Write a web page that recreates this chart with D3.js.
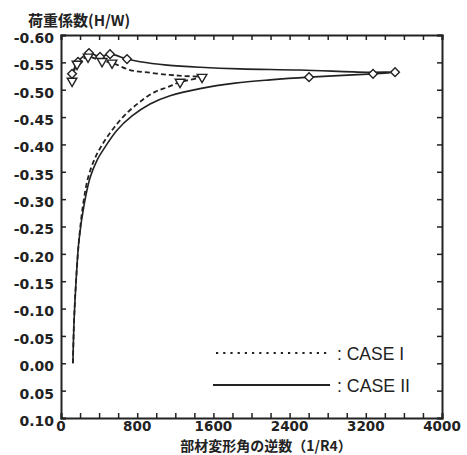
<!DOCTYPE html>
<html>
<head>
<meta charset="utf-8">
<script src="https://cdn.jsdelivr.net/npm/d3@7"></script>
<style>
  body { margin: 0; background: #fff; }
  svg { display: block; }
  .tick-label { font-family: "DejaVu Sans", sans-serif; font-weight: bold; font-size: 14px; fill: #222; }
  .cjk { font-family: "Noto Sans CJK JP", sans-serif; font-weight: bold; fill: #222; }
  .legend-text { font-family: "Liberation Sans", sans-serif; font-size: 19px; fill: #222; }
</style>
</head>
<body>
<div id="graph"></div>
<script>
// CASE I (dashed, down triangles): loading branch then return branch
var caseIx = [125, 137, 158, 189, 231, 284, 357, 431, 536, 672, 830, 987, 1124, 1250, 1481,
              1302, 1145, 935, 725, 536, 431, 284, 168, 116]
var caseIy = [0.00, -0.077, -0.150, -0.225, -0.289, -0.339, -0.375, -0.399, -0.426, -0.454, -0.478, -0.496, -0.505, -0.514, -0.523,
              -0.525, -0.527, -0.531, -0.536, -0.549, -0.552, -0.560, -0.547, -0.516]
var caseIMarks = [13, 14, 19, 20, 21, 22, 23]

// CASE II (solid, diamonds)
var caseIIx = [125, 137, 158, 189, 242, 305, 378, 462, 588, 746, 935, 1145, 1460, 1827, 2195, 2604, 3276, 3507,
               3213, 2510, 1880, 1460, 1113, 830, 693, 515, 410, 294, 179, 116]
var caseIIy = [0.00, -0.077, -0.150, -0.225, -0.289, -0.339, -0.371, -0.395, -0.426, -0.452, -0.474, -0.489, -0.502, -0.512, -0.518, -0.523, -0.529, -0.532,
               -0.532, -0.536, -0.538, -0.541, -0.545, -0.551, -0.556, -0.565, -0.560, -0.567, -0.551, -0.529]
var caseIIMarks = [15, 16, 17, 24, 25, 26, 27, 28, 29]

var xTicks = [0, 800, 1600, 2400, 3200, 4000]
var xTickLabels = ["0", "800", "1600", "2400", "3200", "4000"]
var yTicks = [-0.60, -0.55, -0.50, -0.45, -0.40, -0.35, -0.30, -0.25, -0.20, -0.15, -0.10, -0.05, 0.00, 0.05, 0.10]
var yTickLabels = ["-0.60", "-0.55", "-0.50", "-0.45", "-0.40", "-0.35", "-0.30", "-0.25", "-0.20", "-0.15", "-0.10", "-0.05", "0.00", "0.05", "0.10"]

var yTitle = "荷重係数(H/W)"
var xTitle = "部材変形角の逆数（1/R4）"
var legendLabels = [": CASE I", ": CASE II"]
var legendWidths = [67, 73]

var width = 467, height = 455
var margin = {top: 35, right: 25, bottom: 37, left: 61}
var ink = "#222"

var x = d3.scaleLinear().domain([0, 4000]).range([margin.left, width - margin.right])
var y = d3.scaleLinear().domain([-0.60, 0.10]).range([margin.top, height - margin.bottom])

var svg = d3.select("#graph").append("svg")
    .attr("width", width)
    .attr("height", height)

var minorX = d3.range(0, 4001, 200)

// frame ticks (inward)
svg.append("g")
    .attr("transform", "translate(0," + y(0.10) + ")")
    .call(d3.axisBottom(x).tickValues(minorX).tickSize(-5).tickFormat(""))
svg.append("g")
    .attr("transform", "translate(0," + y(-0.60) + ")")
    .call(d3.axisTop(x).tickValues(minorX).tickSize(-5).tickFormat(""))
svg.append("g")
    .attr("transform", "translate(" + x(0) + ",0)")
    .call(d3.axisLeft(y).tickValues(yTicks).tickSize(-5).tickFormat(""))
svg.append("g")
    .attr("transform", "translate(" + x(4000) + ",0)")
    .call(d3.axisRight(y).tickValues(yTicks).tickSize(-5).tickFormat(""))

svg.selectAll(".domain").attr("stroke", ink).attr("stroke-width", 2)
svg.selectAll(".tick line").attr("stroke", ink).attr("stroke-width", 1.5)

// tick labels
svg.selectAll(".ylab").data(yTicks).enter().append("text")
    .attr("class", "tick-label")
    .attr("x", x(0) - 7)
    .attr("y", function(d) { return y(d) + 3 })
    .attr("dy", "0.35em")
    .attr("text-anchor", "end")
    .text(function(d, i) { return yTickLabels[i] })

svg.selectAll(".xlab").data(xTicks).enter().append("text")
    .attr("class", "tick-label")
    .attr("font-size", 13.5)
    .style("font-size", "13.5px")
    .attr("x", function(d) { return x(d) })
    .attr("y", y(0.10) + 13)
    .attr("text-anchor", "middle")
    .text(function(d, i) { return xTickLabels[i] })

svg.append("text")
    .attr("class", "cjk")
    .attr("x", 28)
    .attr("y", 26)
    .attr("font-size", 15)
    .text(yTitle)

svg.append("text")
    .attr("class", "cjk")
    .attr("x", 266)
    .attr("y", 451)
    .attr("font-size", 14)
    .attr("text-anchor", "middle")
    .text(xTitle)

// curves
var line = d3.line()
    .x(function(d) { return x(d[0]) })
    .y(function(d) { return y(d[1]) })
    .curve(d3.curveCatmullRom.alpha(0.5))

var dataI = caseIx.map(function(v, i) { return [v, caseIy[i]] })
var dataII = caseIIx.map(function(v, i) { return [v, caseIIy[i]] })

svg.append("path")
    .datum(dataII)
    .attr("d", line)
    .attr("fill", "none")
    .attr("stroke", ink)
    .attr("stroke-width", 1.6)

svg.append("path")
    .datum(dataI)
    .attr("d", line)
    .attr("fill", "none")
    .attr("stroke", ink)
    .attr("stroke-width", 1.8)
    .attr("stroke-dasharray", "5,3")

svg.selectAll(".m2").data(caseIIMarks).enter().append("path")
    .attr("d", d3.symbol(d3.symbolSquare, 38))
    .attr("transform", function(i) { return "translate(" + x(caseIIx[i]) + "," + y(caseIIy[i]) + ") rotate(45)" })
    .attr("fill", "#fff")
    .attr("stroke", ink)
    .attr("stroke-width", 1.4)

svg.selectAll(".m1").data(caseIMarks).enter().append("path")
    .attr("d", d3.symbol(d3.symbolTriangle, 40))
    .attr("transform", function(i) { return "translate(" + x(caseIx[i]) + "," + y(caseIy[i]) + ") rotate(180)" })
    .attr("fill", "#fff")
    .attr("stroke", ink)
    .attr("stroke-width", 1.4)

// legend
svg.append("line")
    .attr("x1", 216).attr("x2", 328)
    .attr("y1", 353).attr("y2", 353)
    .attr("stroke", ink)
    .attr("stroke-width", 2.2)
    .attr("stroke-dasharray", "2.2,5")

svg.append("line")
    .attr("x1", 213).attr("x2", 330)
    .attr("y1", 385).attr("y2", 385)
    .attr("stroke", ink)
    .attr("stroke-width", 2)

svg.selectAll(".leg").data(legendLabels).enter().append("text")
    .attr("class", "legend-text")
    .attr("x", 337)
    .attr("y", function(d, i) { return 353 + i * 32 })
    .attr("dy", "0.35em")
    .attr("textLength", function(d, i) { return legendWidths[i] })
    .attr("lengthAdjust", "spacingAndGlyphs")
    .text(function(d) { return d })
</script>
</body>
</html>
